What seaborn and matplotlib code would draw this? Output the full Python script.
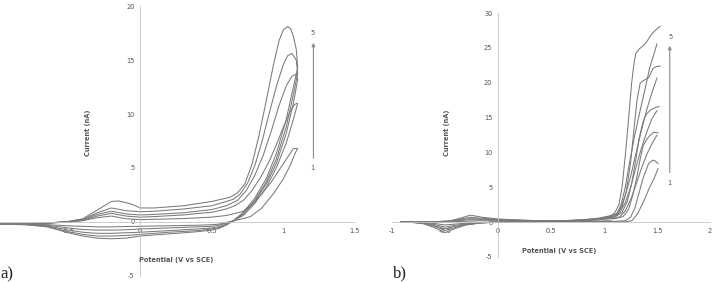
import matplotlib
matplotlib.use("Agg")
import matplotlib.pyplot as plt
import numpy as np
import pandas as pd
import seaborn as sns
from matplotlib.ticker import FuncFormatter

# ---- panel a) : 5 scans, each one closed loop (lower branch -> vertex -> upper branch)
a_scan1_x = [-0.98, -0.8, -0.65, -0.5, -0.4, -0.3, -0.2, -0.1, 0.0, 0.2, 0.4, 0.5, 0.55, 0.6, 0.65,
             0.7, 0.77, 0.85, 0.93, 1.0, 1.05, 1.08, 1.1,
             1.07, 1.03, 0.98, 0.92, 0.85, 0.78, 0.72, 0.65, 0.6, 0.5, 0.4, 0.3, 0.2, 0.1, 0.0,
             -0.1, -0.2, -0.3, -0.4, -0.5, -0.65, -0.8, -0.98]
a_scan1_y = [-0.15, -0.2, -0.25, -0.35, -0.4, -0.45, -0.45, -0.42, -0.4, -0.35, -0.3, -0.25, -0.2, -0.05, 0.1,
             0.25, 0.5, 1.3, 2.6, 4.0, 5.3, 6.3, 6.8,
             6.8, 6.0, 5.0, 3.8, 2.6, 1.6, 1.0, 0.75, 0.6, 0.45, 0.38, 0.32, 0.28, 0.25, 0.22,
             0.3, 0.55, 0.4, 0.12, 0.0, -0.1, -0.15, -0.15]

a_scan2_x = [-0.98, -0.8, -0.65, -0.5, -0.4, -0.3, -0.2, -0.1, 0.0, 0.2, 0.4, 0.5, 0.55, 0.6, 0.65,
             0.72, 0.8, 0.88, 0.95, 1.02, 1.07, 1.1,
             1.08, 1.05, 1.0, 0.95, 0.9, 0.84, 0.78, 0.72, 0.66, 0.6, 0.5, 0.4, 0.3, 0.2, 0.1, 0.0,
             -0.1, -0.2, -0.3, -0.4, -0.5, -0.65, -0.8, -0.98]
a_scan2_y = [-0.15, -0.2, -0.3, -0.55, -0.7, -0.75, -0.75, -0.72, -0.65, -0.55, -0.45, -0.4, -0.3, -0.1, 0.1,
             0.6, 1.7, 3.2, 5.0, 7.3, 9.5, 11.0,
             10.9, 10.3, 8.8, 7.1, 5.6, 4.1, 2.9, 2.0, 1.5, 1.2, 0.9, 0.78, 0.65, 0.58, 0.5, 0.45,
             0.55, 0.8, 0.55, 0.15, 0.0, -0.1, -0.15, -0.15]

a_scan3_x = [-0.98, -0.8, -0.65, -0.5, -0.4, -0.3, -0.2, -0.1, 0.0, 0.2, 0.4, 0.5, 0.55, 0.6, 0.65,
             0.72, 0.8, 0.88, 0.95, 1.02, 1.07, 1.1,
             1.09, 1.06, 1.02, 0.97, 0.92, 0.86, 0.8, 0.74, 0.68, 0.6, 0.5, 0.4, 0.3, 0.2, 0.1, 0.0,
             -0.1, -0.2, -0.3, -0.4, -0.5, -0.65, -0.8, -0.98]
a_scan3_y = [-0.2, -0.2, -0.35, -0.75, -0.95, -1.05, -1.05, -1.0, -0.95, -0.8, -0.65, -0.55, -0.45, -0.2, 0.1,
             0.7, 1.9, 3.5, 5.4, 8.2, 11.0, 13.2,
             13.7, 13.5, 12.6, 10.8, 8.6, 6.2, 4.3, 2.9, 2.0, 1.5, 1.15, 1.0, 0.85, 0.78, 0.7, 0.65,
             0.75, 1.0, 0.7, 0.2, 0.0, -0.1, -0.2, -0.2]

a_scan4_x = [-0.98, -0.8, -0.65, -0.5, -0.4, -0.3, -0.2, -0.1, 0.0, 0.2, 0.4, 0.5, 0.55, 0.6, 0.65,
             0.72, 0.8, 0.88, 0.95, 1.02, 1.07, 1.1,
             1.09, 1.06, 1.03, 1.0, 0.95, 0.9, 0.85, 0.8, 0.75, 0.7, 0.65, 0.6, 0.5, 0.4, 0.3, 0.2, 0.1, 0.0,
             -0.1, -0.2, -0.3, -0.4, -0.5, -0.65, -0.8, -0.98]
a_scan4_y = [-0.2, -0.25, -0.4, -0.9, -1.15, -1.3, -1.3, -1.25, -1.15, -0.95, -0.8, -0.65, -0.5, -0.25, 0.1,
             0.8, 2.0, 3.7, 5.8, 8.8, 11.8, 13.8,
             15.0, 15.6, 15.4, 14.6, 12.5, 10.0, 7.4, 5.2, 3.6, 2.6, 2.1, 1.9, 1.5, 1.35, 1.2, 1.1, 1.0, 0.95,
             1.05, 1.3, 0.85, 0.25, 0.05, -0.1, -0.2, -0.2]

a_scan5_x = [-0.98, -0.8, -0.65, -0.5, -0.4, -0.3, -0.2, -0.1, 0.0, 0.2, 0.4, 0.5, 0.55, 0.6, 0.65,
             0.72, 0.8, 0.88, 0.95, 1.02, 1.07, 1.1,
             1.09, 1.07, 1.05, 1.03, 1.0, 0.97, 0.93, 0.88, 0.83, 0.78, 0.73, 0.68, 0.63, 0.5, 0.4, 0.3, 0.2,
             0.1, 0.0, -0.05, -0.1, -0.15, -0.2, -0.3, -0.4, -0.5, -0.65, -0.8, -0.98]
a_scan5_y = [-0.2, -0.25, -0.45, -1.0, -1.3, -1.5, -1.55, -1.5, -1.3, -1.1, -0.9, -0.75, -0.6, -0.3, 0.1,
             0.9, 2.2, 4.0, 6.3, 9.5, 12.5, 14.3,
             16.0, 17.2, 17.9, 18.1, 17.8, 16.8, 14.5, 11.2, 8.0, 5.3, 3.5, 2.7, 2.3, 1.9, 1.7, 1.5, 1.4,
             1.3, 1.3, 1.6, 1.8, 1.95, 1.9, 1.1, 0.3, 0.05, -0.1, -0.2, -0.2]

# ---- panel b) : 5 scans, forward and reverse branches (open at the 1.5 V vertex)
b_fwd_x = [[-0.92, -0.8, -0.6, -0.45, -0.35, -0.26, -0.15, 0.0, 0.2, 0.4, 0.6, 0.8, 0.95, 1.05,
            1.1, 1.2, 1.26, 1.28, 1.32, 1.38, 1.43, 1.47, 1.51],
           [-0.92, -0.8, -0.6, -0.45, -0.35, -0.26, -0.15, 0.0, 0.2, 0.4, 0.6, 0.8, 0.95, 1.05,
            1.1, 1.15, 1.2, 1.25, 1.3, 1.35, 1.4, 1.45, 1.5],
           [-0.92, -0.8, -0.6, -0.45, -0.35, -0.26, -0.15, 0.0, 0.2, 0.4, 0.6, 0.8, 0.95, 1.05,
            1.1, 1.15, 1.2, 1.25, 1.3, 1.35, 1.4, 1.45, 1.5],
           [-0.92, -0.8, -0.6, -0.45, -0.35, -0.26, -0.15, 0.0, 0.2, 0.4, 0.6, 0.8, 0.95, 1.05,
            1.1, 1.15, 1.2, 1.25, 1.3, 1.35, 1.4, 1.45, 1.5],
           [-0.92, -0.8, -0.6, -0.45, -0.35, -0.26, -0.15, 0.0, 0.2, 0.4, 0.6, 0.8, 0.95, 1.05,
            1.12, 1.16, 1.2, 1.24, 1.29, 1.34, 1.39, 1.43, 1.5]]
b_fwd_y = [[0, 0, 0.0, 0.05, 0.1, 0.15, 0.2, 0.2, 0.15, 0.1, 0.08, 0.1, 0.15, 0.2,
            0.05, 0.05, 0.2, 0.5, 1.3, 3.2, 5.0, 6.2, 7.7],
           [0, 0, 0.02, 0.1, 0.25, 0.35, 0.35, 0.3, 0.22, 0.15, 0.12, 0.2, 0.35, 0.5,
            0.5, 0.8, 1.6, 3.2, 5.3, 7.6, 9.6, 11.2, 12.5],
           [0, 0, 0.05, 0.1, 0.35, 0.5, 0.45, 0.35, 0.25, 0.18, 0.15, 0.25, 0.45, 0.7,
            0.7, 1.4, 2.8, 5.0, 7.8, 10.5, 12.8, 14.8, 16.0],
           [0, 0, 0.05, 0.15, 0.45, 0.7, 0.55, 0.4, 0.28, 0.2, 0.18, 0.28, 0.5, 0.8,
            0.9, 1.8, 3.8, 6.5, 9.8, 13.0, 16.0, 18.5, 20.7],
           [0, 0, 0.05, 0.2, 0.6, 1.0, 0.7, 0.45, 0.3, 0.2, 0.2, 0.3, 0.55, 0.9,
            1.2, 2.5, 5.0, 8.5, 12.5, 16.0, 19.3, 22.1, 25.6]]

b_rev_x = [[1.51, 1.48, 1.46, 1.42, 1.37, 1.33, 1.29, 1.25, 1.2, 1.1,
            1.05, 0.95, 0.8, 0.6, 0.4, 0.2, 0.0, -0.15, -0.3, -0.4, -0.5, -0.6, -0.7, -0.8, -0.92],
           [1.51, 1.47, 1.43, 1.4, 1.37, 1.34, 1.31, 1.27, 1.23, 1.18, 1.1,
            1.05, 0.95, 0.8, 0.6, 0.4, 0.2, 0.0, -0.15, -0.3, -0.4, -0.5, -0.6, -0.7, -0.8, -0.92],
           [1.52, 1.48, 1.44, 1.4, 1.37, 1.33, 1.3, 1.26, 1.22, 1.17, 1.1,
            1.05, 0.95, 0.8, 0.6, 0.4, 0.2, 0.0, -0.15, -0.3, -0.4, -0.5, -0.6, -0.7, -0.8, -0.92],
           [1.53, 1.49, 1.46, 1.42, 1.37, 1.34, 1.31, 1.28, 1.25, 1.21, 1.17, 1.12,
            1.05, 0.95, 0.8, 0.6, 0.4, 0.2, 0.0, -0.15, -0.3, -0.4, -0.5, -0.6, -0.7, -0.8, -0.92],
           [1.53, 1.49, 1.45, 1.39, 1.33, 1.3, 1.28, 1.26, 1.23, 1.2, 1.17, 1.14, 1.1,
            1.05, 0.95, 0.8, 0.6, 0.4, 0.2, 0.0, -0.15, -0.3, -0.4, -0.5, -0.6, -0.7, -0.8, -0.92]]
b_rev_y = [[8.4, 8.8, 8.9, 8.4, 6.4, 4.2, 2.0, 0.7, 0.2, 0.1,
            0.1, 0.08, 0.06, 0.05, 0.04, 0.03, 0.0, -0.05, -0.15, -0.28, -0.4, -0.2, -0.05, 0, 0],
           [12.8, 12.9, 12.4, 11.8, 11.0, 9.0, 6.5, 3.8, 1.8, 0.8, 0.5,
            0.5, 0.35, 0.22, 0.12, 0.08, 0.05, 0.0, -0.08, -0.25, -0.45, -0.7, -0.35, -0.1, -0.03, 0],
           [16.6, 16.4, 16.1, 15.5, 14.5, 12.0, 9.0, 5.5, 3.0, 1.4, 0.7,
            0.7, 0.45, 0.28, 0.15, 0.1, 0.05, 0.0, -0.1, -0.3, -0.6, -0.95, -0.5, -0.15, -0.05, 0],
           [22.4, 22.3, 22.0, 20.7, 20.3, 19.9, 17.4, 13.0, 8.5, 4.5, 2.2, 1.1,
            0.7, 0.5, 0.3, 0.18, 0.12, 0.08, 0.0, -0.1, -0.35, -0.75, -1.2, -0.6, -0.2, -0.05, 0],
           [28.1, 27.6, 27.0, 25.6, 24.8, 24.2, 22.5, 19.9, 14.6, 9.5, 5.0, 2.5, 1.3,
            0.8, 0.55, 0.35, 0.2, 0.15, 0.1, 0.05, -0.1, -0.4, -0.9, -1.5, -0.8, -0.25, -0.05, 0]]

a_ticks_x = [-0.5, 0, 0.5, 1, 1.5]
a_ticks_y = [-5, 0, 5, 10, 15, 20]
b_ticks_x = [-1, -0.5, 0, 0.5, 1, 1.5, 2]
b_ticks_y = [-5, 0, 5, 10, 15, 20, 25, 30]

line_col = "#7a7a7a"
axis_col = "#c4c4c4"
text_col = "#555555"

# long tables for seaborn
rows = []
a_xs = [a_scan1_x, a_scan2_x, a_scan3_x, a_scan4_x, a_scan5_x]
a_ys = [a_scan1_y, a_scan2_y, a_scan3_y, a_scan4_y, a_scan5_y]
for i in range(5):
    for j in range(len(a_xs[i])):
        rows.append({'scan': i + 1, 'order': j, 'potential': a_xs[i][j], 'current': a_ys[i][j]})
dfa = pd.DataFrame(rows)

rows = []
for i in range(5):
    for j in range(len(b_fwd_x[i])):
        rows.append({'branch': 'f%d' % i, 'order': j, 'potential': b_fwd_x[i][j], 'current': b_fwd_y[i][j]})
    for j in range(len(b_rev_x[i])):
        rows.append({'branch': 'r%d' % i, 'order': j, 'potential': b_rev_x[i][j], 'current': b_rev_y[i][j]})
dfb = pd.DataFrame(rows)

sns.set_style("white")
plt.rcParams['font.family'] = ['DejaVu Sans']

fig = plt.figure(figsize=(7.15, 2.82), dpi=100)
ax1 = fig.add_axes([0.0, 0.0213, 0.4965, 0.9574])
ax2 = fig.add_axes([0.5483, 0.0887, 0.4448, 0.8652])

sns.lineplot(data=dfa, x='potential', y='current', units='scan', estimator=None, sort=False,
             color=line_col, linewidth=0.75, ax=ax1)
sns.lineplot(data=dfb, x='potential', y='current', units='branch', estimator=None, sort=False,
             color=line_col, linewidth=0.75, ax=ax2)


def style_axes(ax, xlim, ylim, xt, yt):
    ax.set_xlim(*xlim)
    ax.set_ylim(*ylim)
    ax.set_xticks(xt)
    ax.set_yticks(yt)
    fmt = FuncFormatter(lambda v, p: '%g' % v)
    ax.xaxis.set_major_formatter(fmt)
    ax.yaxis.set_major_formatter(fmt)
    ax.spines['left'].set_position(('data', 0))
    ax.spines['bottom'].set_position(('data', 0))
    ax.spines['top'].set_visible(False)
    ax.spines['right'].set_visible(False)
    for s in ['left', 'bottom']:
        ax.spines[s].set_color(axis_col)
        ax.spines[s].set_linewidth(0.6)
    ax.tick_params(axis='both', length=2, width=0.5, color=axis_col, labelsize=4.8,
                   labelcolor=text_col, pad=2, direction='out')
    ax.set_xlabel('')
    ax.set_ylabel('')
    ax.patch.set_alpha(0)


style_axes(ax1, (-0.978, 1.5), (-5, 20), a_ticks_x, a_ticks_y)
style_axes(ax2, (-1, 2), (-5, 30), b_ticks_x, b_ticks_y)

# axis titles
ax1.text(0.248, 0.53, 'Current (nA)', transform=ax1.transAxes, rotation=90, ha='center', va='center',
         fontsize=4.8, fontweight='bold', color=text_col)
ax1.text(0.496, 0.059, 'Potential (V vs SCE)', transform=ax1.transAxes, ha='center', va='center',
         fontsize=4.8, fontweight='bold', color=text_col)
ax2.text(0.173, 0.508, 'Current (nA)', transform=ax2.transAxes, rotation=90, ha='center', va='center',
         fontsize=4.8, fontweight='bold', color=text_col)
ax2.text(0.525, 0.025, 'Potential (V vs SCE)', transform=ax2.transAxes, ha='center', va='center',
         fontsize=4.8, fontweight='bold', color=text_col)

# scan-order arrows
arrow_kw = dict(arrowstyle='-|>', color='#8a8a8a', lw=0.8, mutation_scale=5, shrinkA=0, shrinkB=0)
ax1.annotate('', xy=(1.21, 16.6), xytext=(1.21, 5.9), arrowprops=arrow_kw)
ax1.text(1.205, 17.5, '5', ha='center', va='center', fontsize=4.8, color=text_col)
ax1.text(1.205, 5.0, '1', ha='center', va='center', fontsize=4.8, color=text_col)
ax2.annotate('', xy=(1.62, 25.3), xytext=(1.62, 7.1), arrowprops=arrow_kw)
ax2.text(1.625, 26.6, '5', ha='center', va='center', fontsize=4.8, color=text_col)
ax2.text(1.615, 5.6, '1', ha='center', va='center', fontsize=4.8, color=text_col)

fig.text(0.001, 1 - 274 / 282, 'a)', ha='left', va='center', fontsize=12,
         family='Liberation Serif', color='#222222')
fig.text(393 / 715, 1 - 273 / 282, 'b)', ha='left', va='center', fontsize=12,
         family='Liberation Serif', color='#222222')

fig.savefig('out.png', dpi=100)
